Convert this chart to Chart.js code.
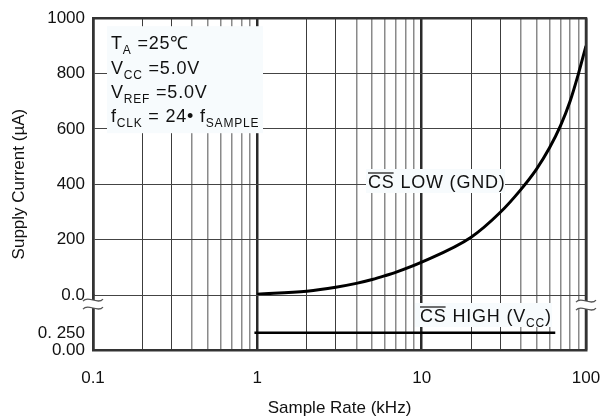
<!DOCTYPE html>
<html>
<head>
<meta charset="utf-8">
<script src="https://cdn.jsdelivr.net/npm/chart.js@4.4.1/dist/chart.umd.min.js"></script>
<style>
  html, body { margin: 0; padding: 0; background: #fff; }
  #wrap { width: 611px; height: 418px; }
</style>
</head>
<body>
<div id="wrap"><canvas id="chart"></canvas></div>
<script>
// values
const sampleRate = [1, 2, 3, 4, 5, 6, 7, 10, 20, 30, 40, 50, 60, 70, 80, 90, 100];
const csLowCurrent = [3, 14, 28, 42, 56, 70, 83, 119, 209, 298, 380, 455, 532, 612, 700, 800, 900];
const csHighRate = [0.96, 65];
const csHighCurrent = [0.25, 0.25];

const xLabelValues = [0.1, 1, 10, 100];
const upperTicks = [0, 200, 400, 600, 800, 1000];
const upperTickLabels = ['0.0', '200', '400', '600', '800', '1000'];
const lowerTicks = [0, 0.25];
const lowerTickLabels = ['0.00', '0. 250'];

const FONT = '"Liberation Sans", Arial, Helvetica, sans-serif';

// all 1..9 multiples for the log grid
const gridValues = [];
[0.1, 1, 10].forEach(d => { for (let m = 1; m < 10; m++) gridValues.push(+(m * d).toPrecision(3)); });
gridValues.push(100);

function mantissa(v) {
  return Math.round(v / Math.pow(10, Math.floor(Math.log10(v) + 1e-9)));
}
function gridColor(v) {
  const m = mantissa(v);
  if (m === 1) return '#2a2a2a';
  if (m === 2 || m === 3) return '#3c3c3c';
  return '#8a8a8a';
}
function gridWidth(v) {
  const m = mantissa(v);
  if (m === 1) return 2.5;
  if (m === 2 || m === 3) return 1;
  return 1.5;
}

// text with subscripts: parts = [[text, isSub], ...]
function drawRich(ctx, x, y, parts) {
  ctx.letterSpacing = '0.8px';
  parts.forEach(([t, sub]) => {
    ctx.font = (sub ? 12 : 18) + 'px ' + FONT;
    ctx.fillText(t, x, sub ? y + 5 : y);
    x += ctx.measureText(t).width;
  });
  ctx.letterSpacing = '0px';
  return x;
}

function drawOverline(ctx, x, y, text) {
  ctx.letterSpacing = '0.8px';
  ctx.font = '18px ' + FONT;
  const w = ctx.measureText(text).width - 1;
  ctx.letterSpacing = '0px';
  ctx.beginPath();
  ctx.lineWidth = 1.2;
  ctx.strokeStyle = '#111';
  ctx.moveTo(x, y - 15);
  ctx.lineTo(x + w, y - 15);
  ctx.stroke();
}

function drawBreak(ctx, cx, cy) {
  ctx.fillStyle = '#fff';
  ctx.fillRect(cx - 9, cy - 4, 18, 8);
  ctx.strokeStyle = '#555';
  ctx.lineWidth = 1.2;
  [-4, 4].forEach(dy => {
    ctx.beginPath();
    ctx.moveTo(cx - 10, cy + dy + 1);
    ctx.bezierCurveTo(cx - 5, cy + dy - 5, cx + 5, cy + dy + 5, cx + 10, cy + dy - 1);
    ctx.stroke();
  });
}

const decorPlugin = {
  id: 'decor',
  beforeDatasetsDraw(chart) {
    const { ctx, chartArea: ca } = chart;
    ctx.save();
    ctx.fillStyle = '#f7fbfd';
    ctx.fillRect(ca.left + 14, ca.top + 8, 156, 107);
    ctx.fillRect(366, 169, 139, 24);
    ctx.fillRect(415, 303, 137, 24);

    ctx.fillStyle = '#111';
    ctx.textBaseline = 'alphabetic';
    const tx = ca.left + 18;
    drawRich(ctx, tx, ca.top + 31, [['T'], ['A', 1], [' =25℃']]);
    drawRich(ctx, tx, ca.top + 56, [['V'], ['CC', 1], [' =5.0V']]);
    drawRich(ctx, tx, ca.top + 80, [['V'], ['REF', 1], [' =5.0V']]);
    drawRich(ctx, tx, ca.top + 104, [['f'], ['CLK', 1], [' = 24• f'], ['SAMPLE', 1]]);

    drawRich(ctx, 368, 188, [['CS LOW (GND)']]);
    drawOverline(ctx, 368, 188, 'CS');
    ctx.fillStyle = '#111';
    drawRich(ctx, 420, 322, [['CS HIGH (V'], ['CC', 1], [')']]);
    drawOverline(ctx, 420, 322, 'CS');
    ctx.restore();
  },
  afterDraw(chart) {
    const { ctx, chartArea: ca } = chart;
    const yHigh = chart.scales.yHigh;
    ctx.save();
    ctx.strokeStyle = '#333';
    ctx.lineWidth = 2.5;
    ctx.beginPath();
    ctx.moveTo(ca.left, ca.top);
    ctx.lineTo(ca.right, ca.top);
    ctx.lineTo(ca.right, ca.bottom);
    ctx.stroke();

    drawBreak(ctx, ca.left, yHigh.bottom + 9);
    drawBreak(ctx, ca.right, yHigh.bottom + 10);

    ctx.fillStyle = '#111';
    ctx.font = '17px ' + FONT;
    ctx.textAlign = 'center';
    ctx.textBaseline = 'middle';
    ctx.fillText('Sample Rate (kHz)', (ca.left + ca.right) / 2, 408);
    ctx.translate(19, (ca.top + ca.bottom) / 2);
    ctx.rotate(-Math.PI / 2);
    ctx.fillText('Supply Current (µA)', 0, 0);
    ctx.restore();
  }
};

new Chart(document.getElementById('chart'), {
  type: 'line',
  data: {
    datasets: [
      {
        label: 'CS LOW (GND)',
        data: sampleRate.map((x, i) => ({ x, y: csLowCurrent[i] })),
        yAxisID: 'yHigh',
        borderColor: '#000',
        borderWidth: 3,
        pointRadius: 0,
        cubicInterpolationMode: 'monotone',
        fill: false
      },
      {
        label: 'CS HIGH (VCC)',
        data: csHighRate.map((x, i) => ({ x, y: csHighCurrent[i] })),
        yAxisID: 'yLow',
        borderColor: '#000',
        borderWidth: 2.5,
        pointRadius: 0,
        fill: false
      }
    ]
  },
  options: {
    responsive: true,
    maintainAspectRatio: false,
    animation: false,
    layout: { padding: { left: 0, top: 18, right: 25, bottom: 0 } },
    plugins: { legend: { display: false }, tooltip: { enabled: false } },
    scales: {
      x: {
        type: 'logarithmic',
        min: 0.1,
        max: 100,
        afterBuildTicks: s => { s.ticks = gridValues.map(v => ({ value: v })); },
        afterFit: s => { s.height = 68; s.paddingLeft = 0; s.paddingRight = 0; },
        ticks: {
          autoSkip: false,
          maxRotation: 0,
          padding: 18,
          color: '#111',
          font: { family: FONT, size: 17 },
          callback: v => xLabelValues.includes(+(+v).toPrecision(3)) ? String(+(+v).toPrecision(3)) : ''
        },
        grid: {
          drawTicks: false,
          color: c => gridColor(c.tick.value),
          lineWidth: c => gridWidth(c.tick.value)
        },
        border: { color: '#333', width: 2.5 }
      },
      yHigh: {
        type: 'linear',
        position: 'left',
        stack: 'y',
        stackWeight: 277,
        weight: 2,
        min: 0,
        max: 1000,
        afterBuildTicks: s => { s.ticks = upperTicks.map(v => ({ value: v })); },
        afterFit: s => { s.width = 93; },
        ticks: {
          padding: 8,
          color: '#111',
          font: { family: FONT, size: 17 },
          callback: v => upperTickLabels[upperTicks.indexOf(v)]
        },
        grid: { drawTicks: false, color: '#444', lineWidth: 1 },
        border: { color: '#333', width: 2.5 }
      },
      yLow: {
        type: 'linear',
        position: 'left',
        stack: 'y',
        stackWeight: 55,
        weight: 1,
        min: 0,
        max: 0.8,
        afterBuildTicks: s => { s.ticks = lowerTicks.map(v => ({ value: v })); },
        afterFit: s => { s.width = 93; },
        ticks: {
          padding: 8,
          color: '#111',
          font: { family: FONT, size: 17 },
          callback: v => lowerTickLabels[lowerTicks.indexOf(v)]
        },
        grid: { display: false, drawTicks: false },
        border: { color: '#333', width: 2.5 }
      }
    }
  },
  plugins: [decorPlugin]
});
</script>
</body>
</html>
